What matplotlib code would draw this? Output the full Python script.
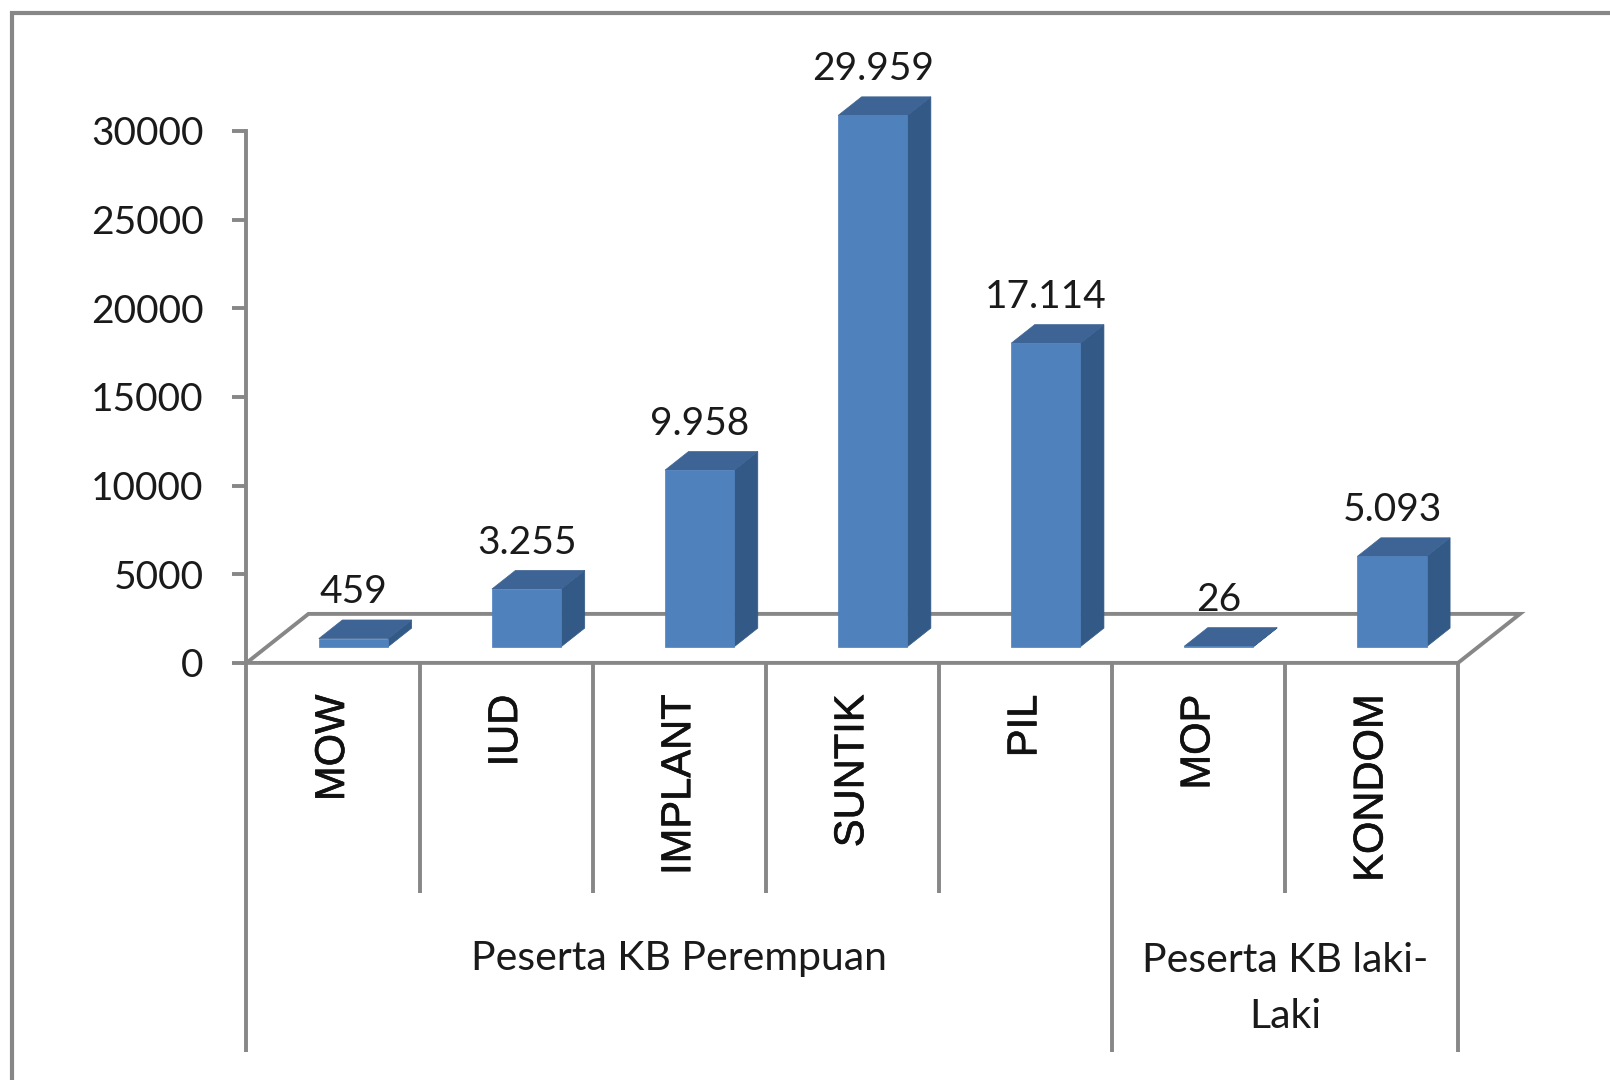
import matplotlib
matplotlib.use('Agg')
import matplotlib.pyplot as plt
import matplotlib.patheffects as pe
from matplotlib.patches import Polygon, Rectangle
import matplotlib.transforms as mtransforms

categories = ['MOW', 'IUD', 'IMPLANT', 'SUNTIK', 'PIL', 'MOP', 'KONDOM']
values = [459, 3255, 9958, 29959, 17114, 26, 5093]
value_labels = ['459', '3.255', '9.958', '29.959', '17.114', '26', '5.093']
groups = ['Peserta KB Perempuan', 'Peserta KB laki-\nLaki']
group_sizes = [5, 2]
yticks = [0, 5000, 10000, 15000, 20000, 25000, 30000]

GRAY = '#878787'
FRONT = '#4F81BD'
SIDE = '#335A87'
TOP = '#3D6494'

# 3d look: floor depth in data units, bar sits in the middle of it
DX, DY = 0.358, 2763
D0, D1 = 0.33, 0.71
BAR_W = 0.40

fig = plt.figure(figsize=(16.1, 10.8), dpi=100)
ax = fig.add_axes([0.1531, 0.3862, 0.7525, 0.4926])
ax.set_xlim(0, len(categories))
ax.set_ylim(0, 30000)
ax.patch.set_visible(False)

for s in ['top', 'right', 'bottom']:
    ax.spines[s].set_visible(False)
ax.spines['left'].set_color(GRAY)
ax.spines['left'].set_linewidth(2.8)
ax.set_xticks([])
ax.set_yticks(yticks)
ax.set_yticklabels([str(t) for t in yticks])
ax.tick_params(axis='y', direction='out', length=10, width=2.8, color=GRAY,
               pad=21, labelsize=28, labelcolor='#1a1a1a')
for lab in ax.get_yticklabels():
    lab.set_family('Lato')

# floor
n = len(categories)
floor = Polygon([(0, 0), (n, 0), (n + DX, DY), (DX, DY)], closed=True,
                facecolor='white', edgecolor=GRAY, linewidth=2.8,
                clip_on=False, zorder=1)
ax.add_patch(floor)

# bars
for i, v in enumerate(values):
    x0 = i + 0.5 - BAR_W / 2 + D0 * DX
    x1 = x0 + BAR_W
    y0 = D0 * DY
    ddx = (D1 - D0) * DX
    ddy = (D1 - D0) * DY
    side = Polygon([(x1, y0), (x1 + ddx, y0 + ddy), (x1 + ddx, y0 + ddy + v), (x1, y0 + v)],
                   closed=True, facecolor=SIDE, edgecolor=SIDE, linewidth=0.5,
                   clip_on=False, zorder=3)
    top = Polygon([(x0, y0 + v), (x1, y0 + v), (x1 + ddx, y0 + ddy + v), (x0 + ddx, y0 + ddy + v)],
                  closed=True, facecolor=TOP, edgecolor=TOP, linewidth=0.5,
                  clip_on=False, zorder=3)
    front = Rectangle((x0, y0), BAR_W, v, facecolor=FRONT, edgecolor=FRONT,
                      linewidth=0.5, clip_on=False, zorder=4)
    ax.add_patch(side)
    ax.add_patch(top)
    ax.add_patch(front)
    ax.annotate(value_labels[i], xy=(x0 + BAR_W / 2, y0 + ddy + v),
                xytext=(0, 12), textcoords='offset points',
                ha='center', va='baseline', fontsize=28, family='Lato',
                color='#1a1a1a', annotation_clip=False)

# category dividers and labels below the floor
trans = mtransforms.blended_transform_factory(ax.transData, ax.transAxes)
bounds = [0]
for g in group_sizes:
    bounds.append(bounds[-1] + g)
for k in range(n + 1):
    low = -0.731 if k in bounds else -0.432
    ax.plot([k, k], [0, low], transform=trans, color=GRAY, linewidth=2.8,
            clip_on=False, zorder=2, solid_capstyle='butt')

for i, c in enumerate(categories):
    ax.text(i + 0.5, -0.060, c, transform=trans, rotation=90, ha='center',
            va='top', fontsize=30, family='Liberation Sans', color='#111111',
            path_effects=[pe.withStroke(linewidth=0.45, foreground='#111111')])

group_y = [-0.556, -0.612]
for j, g in enumerate(groups):
    mid = (bounds[j] + bounds[j + 1]) / 2
    ax.text(mid, group_y[j], g, transform=trans, ha='center', va='center',
            fontsize=29.5, family='Lato', color='#1a1a1a', linespacing=1.62,
            multialignment='center')

# outer chart border
fig.add_artist(Rectangle((12 / 1610, -0.05), 1.1, 1 + 0.05 - 13 / 1080,
                         transform=fig.transFigure, fill=False,
                         edgecolor=GRAY, linewidth=3))

fig.savefig('out.png', dpi=100)
